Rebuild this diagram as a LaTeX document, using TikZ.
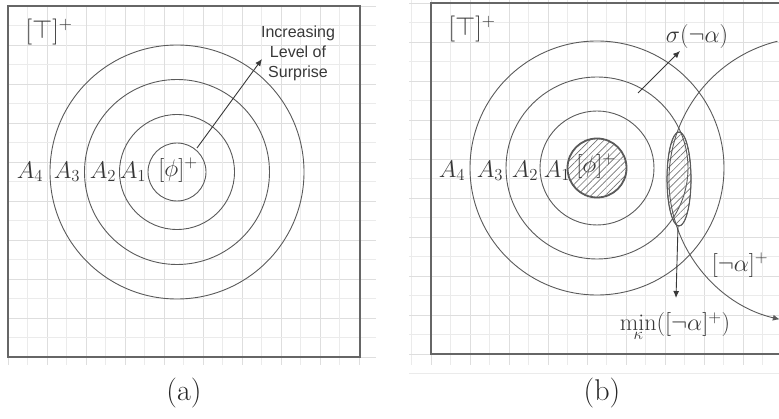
\RequirePackage{fix-cm}
\documentclass[tikz,border=0pt]{standalone}
\usepackage{fontspec}
\newfontfamily\helv{Liberation Sans}
\usetikzlibrary{arrows.meta,patterns.meta,calc}
\definecolor{ink}{HTML}{383838}
\definecolor{linec}{HTML}{5A5A5A}
\definecolor{framec}{HTML}{666666}
\definecolor{gridminor}{HTML}{EBEBEB}
\definecolor{gridmajor}{HTML}{DEDEDE}
\definecolor{shade}{HTML}{CDCDCD}
\tikzset{
  panelframe/.style={draw=framec, line width=1.3pt},
  ring/.style={draw=linec, line width=0.9pt},
  lbl/.style={inner sep=0pt, text=ink, font=\fontsize{24}{28}\selectfont},
  toplbl/.style={inner sep=0pt, text=ink, font=\fontsize{26}{30}\selectfont},
  captext/.style={inner sep=0pt, text=black!85, font=\fontsize{30}{34}\selectfont},
  sans/.style={inner sep=0pt, text=ink, font=\helv\fontsize{16}{20}\selectfont, align=center},
  arr/.style={draw=ink, line width=0.9pt, -{Latex[length=7pt,width=6pt]}},
  hatched/.style={fill=shade, pattern={Lines[angle=45,distance=5pt,line width=0.65pt]}, pattern color=black!55},
  minorgrid/.style={draw=gridminor, line width=0.8pt},
  majorgrid/.style={draw=gridmajor, line width=0.9pt}
}
\begin{document}
\begin{tikzpicture}[x=1pt,y=-1pt]
\useasboundingbox (0,0) rectangle (779,419);
% ---------- panel (a) grid ----------
\foreach \i in {0,...,18} {
  \pgfmathsetmacro{\xx}{8+19.5*\i}
  \pgfmathsetmacro{\yy}{6+19.5*\i}
  \ifodd\i
    \draw[minorgrid] (\xx,6) -- (\xx,365);
    \draw[minorgrid] (8,\yy) -- (376,\yy);
  \else
    \draw[majorgrid] (\xx,6) -- (\xx,365);
    \draw[majorgrid] (8,\yy) -- (376,\yy);
  \fi
}
% ---------- panel (b) grid ----------
\foreach \i in {-1,...,19} {
  \pgfmathsetmacro{\xx}{431+19.5*\i}
  \pgfmathsetmacro{\yy}{3+19.5*\i}
  \ifodd\i
    \draw[minorgrid] (\xx,0) -- (\xx,365);
    \draw[minorgrid] (409,\yy) -- (779,\yy);
  \else
    \draw[majorgrid] (\xx,0) -- (\xx,365);
    \draw[majorgrid] (409,\yy) -- (779,\yy);
  \fi
}
% ---------- panel (a) ----------
\draw[panelframe] (8,6) rectangle (360,357);
\coordinate (ca) at (177,172);
\draw[ring] (ca) circle[radius=29];
\draw[ring] (ca) circle[radius=57.5];
\draw[ring] (ca) circle[radius=92.5];
\draw[ring] (ca) circle[radius=127];
\node[toplbl] (topa) at (49,32) {$[\top]^+$};
\node[lbl] (phia) at (178,170) {$[\phi]^+$};
\node[lbl] (a4a) at (30,172) {$A_4$};
\node[lbl] (a3a) at (67,172) {$A_3$};
\node[lbl] (a2a) at (103,172) {$A_2$};
\node[lbl] (a1a) at (133,172) {$A_1$};
\node[sans] (surp) at (298,53) {Increasing\\Level of\\Surprise};
\coordinate (sa0) at (197,148);
\coordinate (sa1) at (262,59);
\draw[arr] (sa0) -- (sa1);
\node[captext] (capa) at (184,393) {(a)};
% ---------- panel (b) ----------
\draw[panelframe] (812,3) -- (431,3) -- (431,354) -- (812,354);
\coordinate (cb) at (597,168);
\draw[ring] (cb) circle[radius=57];
\draw[ring] (cb) circle[radius=91];
\draw[ring] (cb) circle[radius=127];
\draw[hatched] (cb) circle[radius=29.5];
\draw[draw=linec, line width=1.8pt] (cb) circle[radius=29.5];
\coordinate (lens) at (679,179);
\draw[hatched] (lens) ellipse[x radius=12, y radius=47];
\draw[draw=linec, line width=1.1pt] (lens) ellipse[x radius=12, y radius=47];
\coordinate (bc) at (812,180);
\draw[ring, -{Latex[length=7pt,width=6pt]}] ([shift={(256:143)}]bc) arc[start angle=256, end angle=103, radius=143];
\node[toplbl] (topb) at (472,29) {$[\top]^+$};
\node[lbl] (phib) at (596,166) {$[\phi]^+$};
\node[lbl] (a4b) at (452,171) {$A_4$};
\node[lbl] (a3b) at (490,171) {$A_3$};
\node[lbl] (a2b) at (525,171) {$A_2$};
\node[lbl] (a1b) at (557,171) {$A_1$};
\node[lbl] (sig) at (697,37) {$\sigma(\neg\alpha)$};
\coordinate (sg0) at (638,93);
\coordinate (sg1) at (680,51);
\draw[arr] (sg0) -- (sg1);
\coordinate (mn0) at (678,226);
\coordinate (mn1) at (676,298);
\draw[arr] (mn0) -- (mn1);
\node[lbl, anchor=base] (minl) at (675,331) {$\min\limits_{\kappa}([\neg\alpha]^+)$};
\node[lbl] (nega) at (740,265) {$[\neg\alpha]^+$};
\node[captext] (capb) at (602,393) {(b)};
\end{tikzpicture}
\end{document}
